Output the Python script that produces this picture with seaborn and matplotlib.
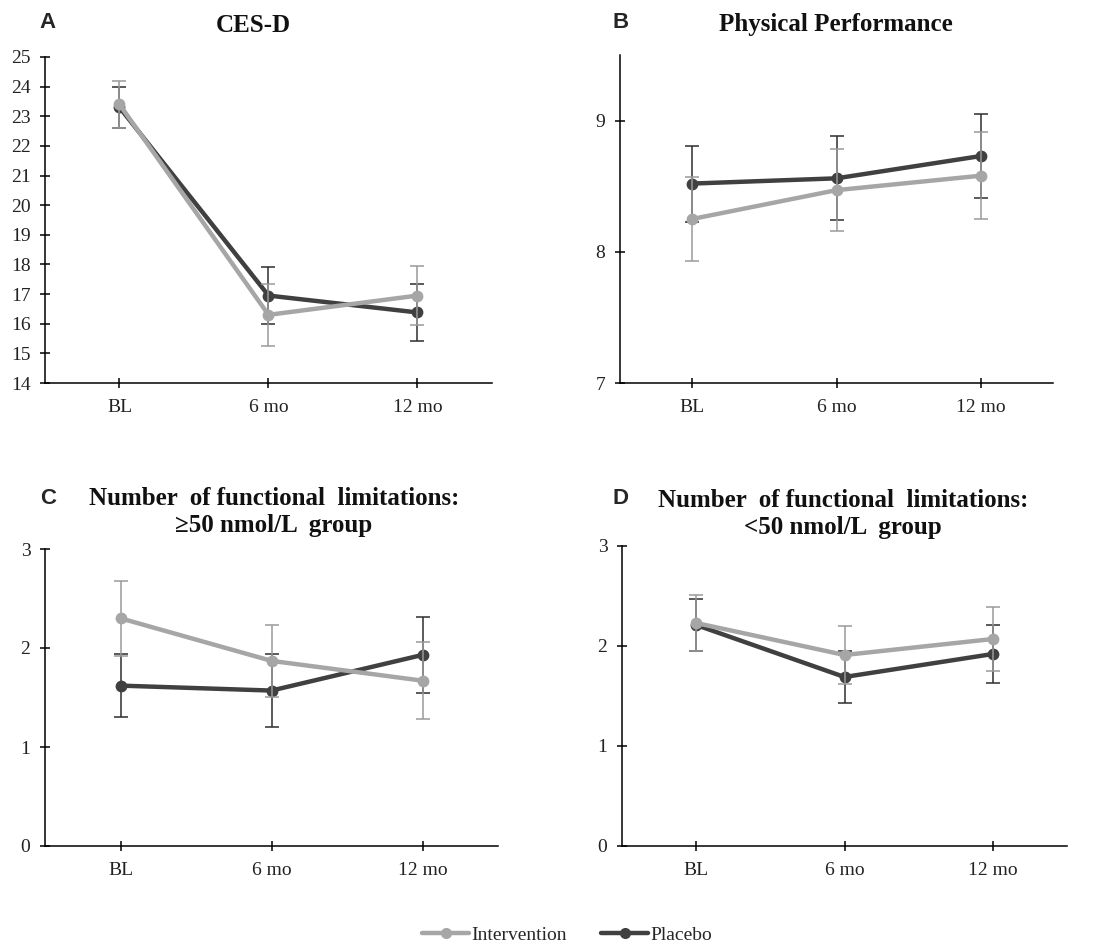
import numpy as np
import pandas as pd
import matplotlib
matplotlib.use("Agg")
import matplotlib.pyplot as plt
import seaborn as sns
from matplotlib.lines import Line2D

# ---------------- data ----------------
timepoints = ["BL", "6 mo", "12 mo"]
groups = ["Intervention", "Placebo"]

cesd_int = [23.40, 16.30, 16.95]
cesd_int_err = [0.80, 1.05, 1.00]
cesd_pla = [23.30, 16.95, 16.38]
cesd_pla_err = [0.70, 0.95, 0.97]

phys_int = [8.25, 8.47, 8.58]
phys_int_err = [0.32, 0.31, 0.33]
phys_pla = [8.52, 8.56, 8.73]
phys_pla_err = [0.29, 0.32, 0.32]

fl_hi_int = [2.30, 1.87, 1.67]
fl_hi_int_err = [0.38, 0.36, 0.39]
fl_hi_pla = [1.62, 1.57, 1.93]
fl_hi_pla_err = [0.32, 0.37, 0.38]

fl_lo_int = [2.23, 1.91, 2.07]
fl_lo_int_err = [0.28, 0.29, 0.32]
fl_lo_pla = [2.21, 1.69, 1.92]
fl_lo_pla_err = [0.26, 0.26, 0.29]

panel_letters = ["A", "B", "C", "D"]
panel_titles = ["CES-D", "Physical Performance",
                "Number  of functional  limitations:\n\u226550 nmol/L  group",
                "Number  of functional  limitations:\n<50 nmol/L  group"]
yticks_list = [list(range(14, 26)), [7, 8, 9], [0, 1, 2, 3], [0, 1, 2, 3]]
ylims = [(14, 25), (7, 9.5), (0, 3), (0, 3)]

# ---------------- style ----------------
sns.set_theme(style="white")
plt.rcParams['font.family'] = ['Liberation Serif', 'DejaVu Serif']

col_line = {"Intervention": "#a6a6a6", "Placebo": "#404040"}
col_err = {"Intervention": "#9a9a9a", "Placebo": "#2e2e2e"}

W, H = 1094, 944
fig = plt.figure(figsize=(W / 100, H / 100), dpi=100)

def px_axes(l, r, t, b):
    return fig.add_axes([l / W, 1 - b / H, (r - l) / W, (b - t) / H])

axes = [px_axes(45, 492, 57, 383),
        px_axes(620, 1053, 55, 383),
        px_axes(45, 498, 549, 846),
        px_axes(622, 1067, 546, 846)]

panels = [
    (cesd_int, cesd_int_err, cesd_pla, cesd_pla_err),
    (phys_int, phys_int_err, phys_pla, phys_pla_err),
    (fl_hi_int, fl_hi_int_err, fl_hi_pla, fl_hi_pla_err),
    (fl_lo_int, fl_lo_int_err, fl_lo_pla, fl_lo_pla_err),
]

for i, (ax, (mi, ei, mp, ep)) in enumerate(zip(axes, panels)):
    df = pd.DataFrame({
        "time": timepoints * 2,
        "pos": [0, 1, 2] * 2,
        "group": ["Intervention"] * 3 + ["Placebo"] * 3,
        "mean": mi + mp,
        "err": ei + ep,
    })
    for g, z in [("Placebo", 3), ("Intervention", 4)]:
        sub = df[df.group == g]
        ax.errorbar(sub["pos"], sub["mean"], yerr=sub["err"], fmt="none",
                    ecolor=col_err[g], elinewidth=1.1, capsize=5,
                    capthick=1.1, zorder=z)
        sns.lineplot(data=sub, x="pos", y="mean", color=col_line[g],
                     marker="o", markersize=8.5, markeredgewidth=0,
                     linewidth=3.2, ax=ax, zorder=z + 0.5, legend=False,
                     errorbar=None)
    ax.set_xlim(-0.5, 2.5)
    ax.set_ylim(*ylims[i])
    ax.set_xticks([0, 1, 2])
    ax.set_xticklabels(timepoints)
    ax.set_yticks(yticks_list[i])
    ax.set_xlabel("")
    ax.set_ylabel("")
    for s in ["top", "right"]:
        ax.spines[s].set_visible(False)
    for s in ["left", "bottom"]:
        ax.spines[s].set_color("black")
        ax.spines[s].set_linewidth(1.1)
    ax.tick_params(axis="both", direction="inout", length=7, width=1.1,
                   color="black", labelsize=14, labelcolor="#222222",
                   left=True, bottom=True)
    ax.tick_params(axis="x", pad=8)
    ax.tick_params(axis="y", pad=7)
    ax.set_facecolor("white")
    ax.patch.set_alpha(0)

# panel letters and titles
letter_pos = [(48, 23), (621, 23), (48, 498), (621, 498)]
title_pos = [(253, 25), (836, 25), (274, 512), (843, 514)]
for (lx, ly), (tx, ty), L, T in zip(letter_pos, title_pos, panel_letters, panel_titles):
    fig.text(lx / W, 1 - ly / H, L, family=['Liberation Sans', 'DejaVu Sans'],
             fontweight="bold", fontsize=16, ha="center", va="center")
    fig.text(tx / W, 1 - ty / H, T, fontweight="bold", fontsize=18,
             ha="center", va="center", linespacing=1.2, color="#111111")

# legend
handles = [Line2D([0], [0], color=col_line[g], linewidth=3.2, marker="o",
                  markersize=8, markeredgewidth=0) for g in groups]
fig.legend(handles, groups, loc="center", bbox_to_anchor=(567 / W, 1 - 935 / H),
           ncol=2, frameon=False, fontsize=14, handlelength=2.4,
           handletextpad=0.1, columnspacing=1.8, numpoints=1)

fig.savefig("out.png", dpi=100, facecolor="white")
